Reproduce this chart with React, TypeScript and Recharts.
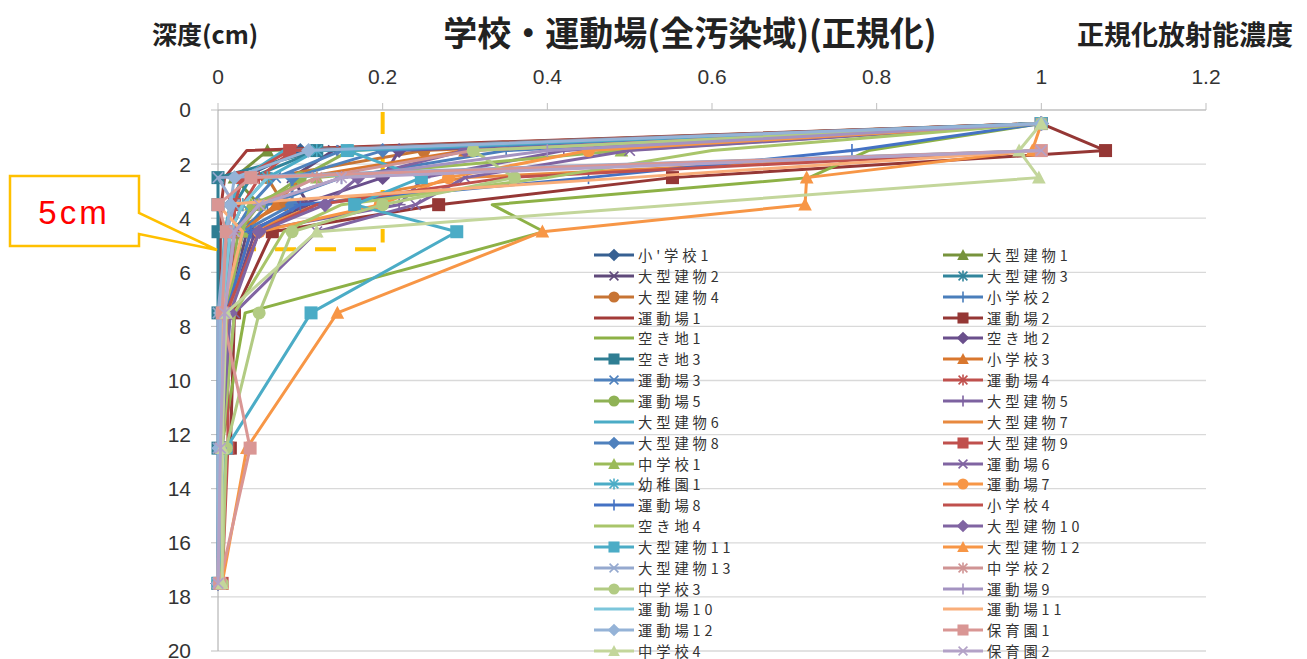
import React from 'react';
import { ScatterChart, Scatter, XAxis, YAxis, CartesianGrid, ReferenceLine } from 'recharts';

// ---- categories / depths (cm) ----
const depthA = [0.5, 1.5, 2.5, 3.5, 4.5, 7.5, 12.5, 17.5];
const depthB = [1.5, 2.5, 3.5, 4.5, 7.5, 12.5, 17.5];
const depthC = [0.5, 1.5, 2.5, 4.5, 7.5, 12.5, 17.5];
const depthD = [0.5, 1.5, 2.5, 3.5, 4.5, 7.5, 12.5];

// ---- series names (legend order) ----
const names = [
  "小'学校1", '大型建物1', '大型建物2', '大型建物3', '大型建物4', '小学校2', '運動場1', '運動場2',
  '空き地1', '空き地2', '空き地3', '小学校3', '運動場3', '運動場4', '運動場5', '大型建物5',
  '大型建物6', '大型建物7', '大型建物8', '大型建物9', '中学校1', '運動場6', '幼稚園1', '運動場7',
  '運動場8', '小学校4', '空き地4', '大型建物10', '大型建物11', '大型建物12', '大型建物13', '中学校2',
  '中学校3', '運動場9', '運動場10', '運動場11', '運動場12', '保育園1', '中学校4', '保育園2',
];

// ---- depth set used by each series ----
const seriesDepths = [
  depthA, depthA, depthA, depthA, depthA, depthA, depthA, depthD,
  depthA, depthA, depthA, depthA, depthA, depthA, depthA, depthA,
  depthA, depthB, depthA, depthA, depthA, depthA, depthA, depthA,
  depthA, depthB, depthA, depthA, depthA, depthA, depthB, depthA,
  depthA, depthA, depthB, depthB, depthA, depthB, depthC, depthB,
];

// ---- normalized concentration values (one row per series) ----
const seriesValues: number[][] = [
  [1, 0.10, 0.03, 0.015, 0.01, 0.005, 0.002, 0.0],
  [1, 0.06, 0.02, 0.05, 0.015, 0.006, 0.003, 0.001],
  [1, 0.14, 0.09, 0.11, 0.035, 0.012, 0.003, 0.0],
  [1, 0.12, 0.04, 0.02, 0.01, 0.005, 0.002, 0.0],
  [1, 0.25, 0.06, 0.08, 0.015, 0.005, 0.002, 0.0],
  [1, 0.35, 0.15, 0.06, 0.03, 0.01, 0.004, 0.0],
  [1, 0.035, 0.008, 0.004, 0.003, 0.002, 0.001, 0.0],
  [1, 1.078, 0.552, 0.268, 0.066, 0.02, 0.015],
  [1, 0.79, 0.718, 0.333, 0.396, 0.033, 0.004, 0.001],
  [1, 0.22, 0.2, 0.1, 0.045, 0.012, 0.004, 0.0],
  [1, 0.12, 0.0, 0.0, 0.0, 0.0, 0.0, 0.0],
  [1, 0.3, 0.1, 0.07, 0.03, 0.01, 0.003, 0.0],
  [1, 0.15, 0.07, 0.04, 0.02, 0.006, 0.002, 0.0],
  [1, 0.09, 0.05, 0.03, 0.015, 0.006, 0.002, 0.0],
  [1, 0.16, 0.1, 0.05, 0.025, 0.008, 0.003, 0.0],
  [1, 0.42, 0.25, 0.22, 0.04, 0.01, 0.003, 0.0],
  [1, 0.08, 0.03, 0.015, 0.008, 0.003, 0.001, 0.0],
  [1, 0.3, 0.12, 0.04, 0.01, 0.003, 0.0],
  [1, 0.2, 0.09, 0.09, 0.03, 0.01, 0.002, 0.0],
  [1, 0.087, 0.03, 0.02, 0.02, 0.012, 0.012, 0.005],
  [1, 0.49, 0.12, 0.04, 0.03, 0.01, 0.004, 0.0],
  [1, 0.5, 0.3, 0.24, 0.12, 0.02, 0.005, 0.0],
  [1, 0.12, 0.06, 0.03, 0.015, 0.005, 0.002, 0.0],
  [1, 0.45, 0.28, 0.197, 0.05, 0.012, 0.004, 0.0],
  [1, 0.77, 0.45, 0.1, 0.04, 0.01, 0.003, 0.0],
  [1, 0.35, 0.12, 0.05, 0.01, 0.003, 0.0],
  [1, 0.6, 0.4, 0.15, 0.08, 0.02, 0.005, 0.0],
  [1, 0.3, 0.17, 0.13, 0.05, 0.015, 0.004, 0.0],
  [1, 0.157, 0.247, 0.166, 0.29, 0.113, 0.01, 0.0],
  [1, 0.989, 0.715, 0.713, 0.394, 0.145, 0.035, 0.005],
  [1, 0.0, 0.02, 0.01, 0.0, 0.0, 0.0],
  [1, 0.31, 0.12, 0.05, 0.02, 0.008, 0.003, 0.0],
  [1, 0.31, 0.36, 0.2, 0.09, 0.05, 0.01, 0.005],
  [1, 0.4, 0.15, 0.05, 0.02, 0.008, 0.003, 0.0],
  [1, 0.06, 0.03, 0.015, 0.005, 0.002, 0.0],
  [1, 0.5, 0.0, 0.03, 0.005, 0.002, 0.0],
  [1, 0.11, 0.02, 0.015, 0.01, 0.003, 0.001, 0.0],
  [1, 0.04, 0.0, 0.01, 0.005, 0.039, 0.002],
  [1, 0.973, 0.997, 0.12, 0.01, 0.005, 0.005],
  [1, 0.15, 0.05, 0.02, 0.008, 0.003, 0.0],
];

// ---- tick labels ----
const xTicks = [0, 0.2, 0.4, 0.6, 0.8, 1, 1.2];
const yTicks = [0, 2, 4, 6, 8, 10, 12, 14, 16, 18, 20];

// ---- styles ----
const colors = [
  '#376092', '#77933C', '#5F497A', '#31859C', '#C77434', '#4A7EBB', '#A33B38', '#953735',
  '#8DB146', '#6A4F8C', '#2F7E93', '#D9772E', '#4F81BD', '#C0504D', '#8FB255', '#7D62A0',
  '#4BACC6', '#E8893F', '#4F81BD', '#C0504D', '#9BBB59', '#8064A2', '#4BACC6', '#F79646',
  '#4472C4', '#C0504D', '#A9C56A', '#8064A2', '#4BACC6', '#F79646', '#95A9CF', '#D09494',
  '#B2CB83', '#A493C1', '#7CC6DB', '#F9AE7A', '#95B3D7', '#D99694', '#C3D69B', '#B3A2C7',
];
const markers = [
  'diamond', 'triangle', 'x', 'star', 'circle', 'plus', 'none', 'square',
  'none', 'diamond', 'square', 'triangle', 'x', 'star', 'circle', 'plus',
  'none', 'none', 'diamond', 'square', 'triangle', 'x', 'star', 'circle',
  'plus', 'none', 'none', 'diamond', 'square', 'triangle', 'x', 'star',
  'circle', 'plus', 'none', 'none', 'diamond', 'square', 'triangle', 'x',
];

function Marker({ cx, cy, kind, color, s = 1 }: any) {
  if (cx == null || cy == null || isNaN(cx) || isNaN(cy)) return <g />;
  const h = 6.5 * s;
  switch (kind) {
    case 'square':
      return <rect x={cx - h} y={cy - h} width={2 * h} height={2 * h} fill={color} />;
    case 'diamond': {
      const d = h * 1.15;
      return <polygon points={`${cx},${cy - d} ${cx + d},${cy} ${cx},${cy + d} ${cx - d},${cy}`} fill={color} />;
    }
    case 'triangle':
      return <polygon points={`${cx},${cy - h * 1.1} ${cx + h * 1.05},${cy + h * 0.9} ${cx - h * 1.05},${cy + h * 0.9}`} fill={color} />;
    case 'circle':
      return <circle cx={cx} cy={cy} r={h} fill={color} />;
    case 'x':
      return (
        <g stroke={color} strokeWidth={1.6}>
          <line x1={cx - h * 0.8} y1={cy - h * 0.8} x2={cx + h * 0.8} y2={cy + h * 0.8} />
          <line x1={cx - h * 0.8} y1={cy + h * 0.8} x2={cx + h * 0.8} y2={cy - h * 0.8} />
        </g>
      );
    case 'star':
      return (
        <g stroke={color} strokeWidth={1.6}>
          <line x1={cx - h * 0.8} y1={cy - h * 0.8} x2={cx + h * 0.8} y2={cy + h * 0.8} />
          <line x1={cx - h * 0.8} y1={cy + h * 0.8} x2={cx + h * 0.8} y2={cy - h * 0.8} />
          <line x1={cx} y1={cy - h} x2={cx} y2={cy + h} />
        </g>
      );
    case 'plus':
      return (
        <g stroke={color} strokeWidth={1.6}>
          <line x1={cx} y1={cy - h} x2={cx} y2={cy + h} />
          <line x1={cx - h} y1={cy} x2={cx + h} y2={cy} />
        </g>
      );
    default:
      return <g />;
  }
}

const tickFont = { fill: '#333333', fontSize: 21, fontFamily: "'Liberation Sans', Arial, sans-serif" };

export default function App() {
  const series = names.map((n, i) =>
    seriesDepths[i].map((d, k) => ({ x: seriesValues[i][k], y: d })).filter((p) => p.x != null)
  );

  return (
    <div style={{ position: 'absolute', left: 0, top: 0, width: 1307, height: 659, background: '#ffffff', overflow: 'hidden' }}>
      <ScatterChart width={1307} height={659} margin={{ top: 70, right: 101, bottom: 8, left: 0 }}>
        <CartesianGrid vertical={false} stroke="#D9D9D9" strokeWidth={1.3} />
        <XAxis
          type="number"
          dataKey="x"
          orientation="top"
          domain={[0, 1.2]}
          ticks={xTicks}
          interval={0}
          height={40}
          tickSize={7}
          tickMargin={19}
          axisLine={{ stroke: '#BFBFBF' }}
          tickLine={{ stroke: '#BFBFBF' }}
          tick={tickFont}
        />
        <YAxis
          type="number"
          dataKey="y"
          reversed
          domain={[0, 20]}
          ticks={yTicks}
          interval={0}
          width={218}
          tickSize={7}
          tickMargin={20}
          axisLine={{ stroke: '#A6A6A6' }}
          tickLine={{ stroke: '#BFBFBF' }}
          tick={tickFont}
        />
        {series.map((pts, i) => (
          <Scatter
            key={names[i]}
            name={names[i]}
            data={pts}
            fill={colors[i]}
            line={{ stroke: colors[i], strokeWidth: 3, strokeLinejoin: 'round' }}
            lineJointType="linear"
            isAnimationActive={false}
            shape={(p: any) => <Marker cx={p.cx} cy={p.cy} kind={markers[i]} color={colors[i]} />}
          />
        ))}
        <ReferenceLine
          segment={[{ x: 0.2, y: 0.07 }, { x: 0.2, y: 4.9 }]}
          stroke="#FFC000"
          strokeWidth={4}
          strokeDasharray="22 17"
          ifOverflow="visible"
        />
        <ReferenceLine
          segment={[{ x: 0.0207, y: 5.15 }, { x: 0.193, y: 5.15 }]}
          stroke="#FFC000"
          strokeWidth={4}
          strokeDasharray="21 19"
          ifOverflow="visible"
        />
      </ScatterChart>

      {/* titles */}
      <div style={{ position: 'absolute', left: 390, width: 600, top: 14, textAlign: 'center', fontFamily: "'Noto Sans CJK JP', sans-serif", fontWeight: 700, fontSize: 34, lineHeight: '36px', color: '#222' }}>
        学校・運動場(全汚染域)(正規化)
      </div>
      <div style={{ position: 'absolute', left: 152, top: 20, fontFamily: "'Noto Sans CJK JP', sans-serif", fontWeight: 700, fontSize: 25, lineHeight: '27px', color: '#222' }}>
        深度(cm)
      </div>
      <div style={{ position: 'absolute', left: 1077, top: 19, fontFamily: "'Noto Sans CJK JP', sans-serif", fontWeight: 700, fontSize: 27, lineHeight: '29px', color: '#222', whiteSpace: 'nowrap' }}>
        正規化放射能濃度
      </div>

      {/* legend */}
      {names.map((n, i) => {
        const col = i % 2;
        const row = Math.floor(i / 2);
        const left = col === 0 ? 594 : 943;
        const cy = 255 + row * 20.85;
        return (
          <div key={n} style={{ position: 'absolute', left, top: cy - 10, height: 20, display: 'flex', alignItems: 'center', whiteSpace: 'nowrap' }}>
            <svg width={40} height={20} style={{ display: 'block' }}>
              <line x1={0} y1={10} x2={40} y2={10} stroke={colors[i]} strokeWidth={3.2} />
              <Marker cx={20} cy={10} kind={markers[i]} color={colors[i]} s={0.85} />
            </svg>
            <span style={{ marginLeft: 4, fontFamily: "'Noto Sans CJK JP', sans-serif", fontSize: 14.3, letterSpacing: 3.9, color: '#333', lineHeight: '20px' }}>{n}</span>
          </div>
        );
      })}

      {/* 5cm callout */}
      <svg width={1307} height={659} style={{ position: 'absolute', left: 0, top: 0, pointerEvents: 'none' }}>
        <path d="M10,176 L139,176 L139,213 L217,250 L139,234 L139,246 L10,246 Z" fill="#ffffff" stroke="#FFC000" strokeWidth={2.5} strokeLinejoin="miter" />
        <text x={74} y={224} textAnchor="middle" fill="#FF0000" fontSize={33} letterSpacing={3} fontFamily="'Liberation Sans', Arial, sans-serif">5cm</text>
      </svg>
    </div>
  );
}
